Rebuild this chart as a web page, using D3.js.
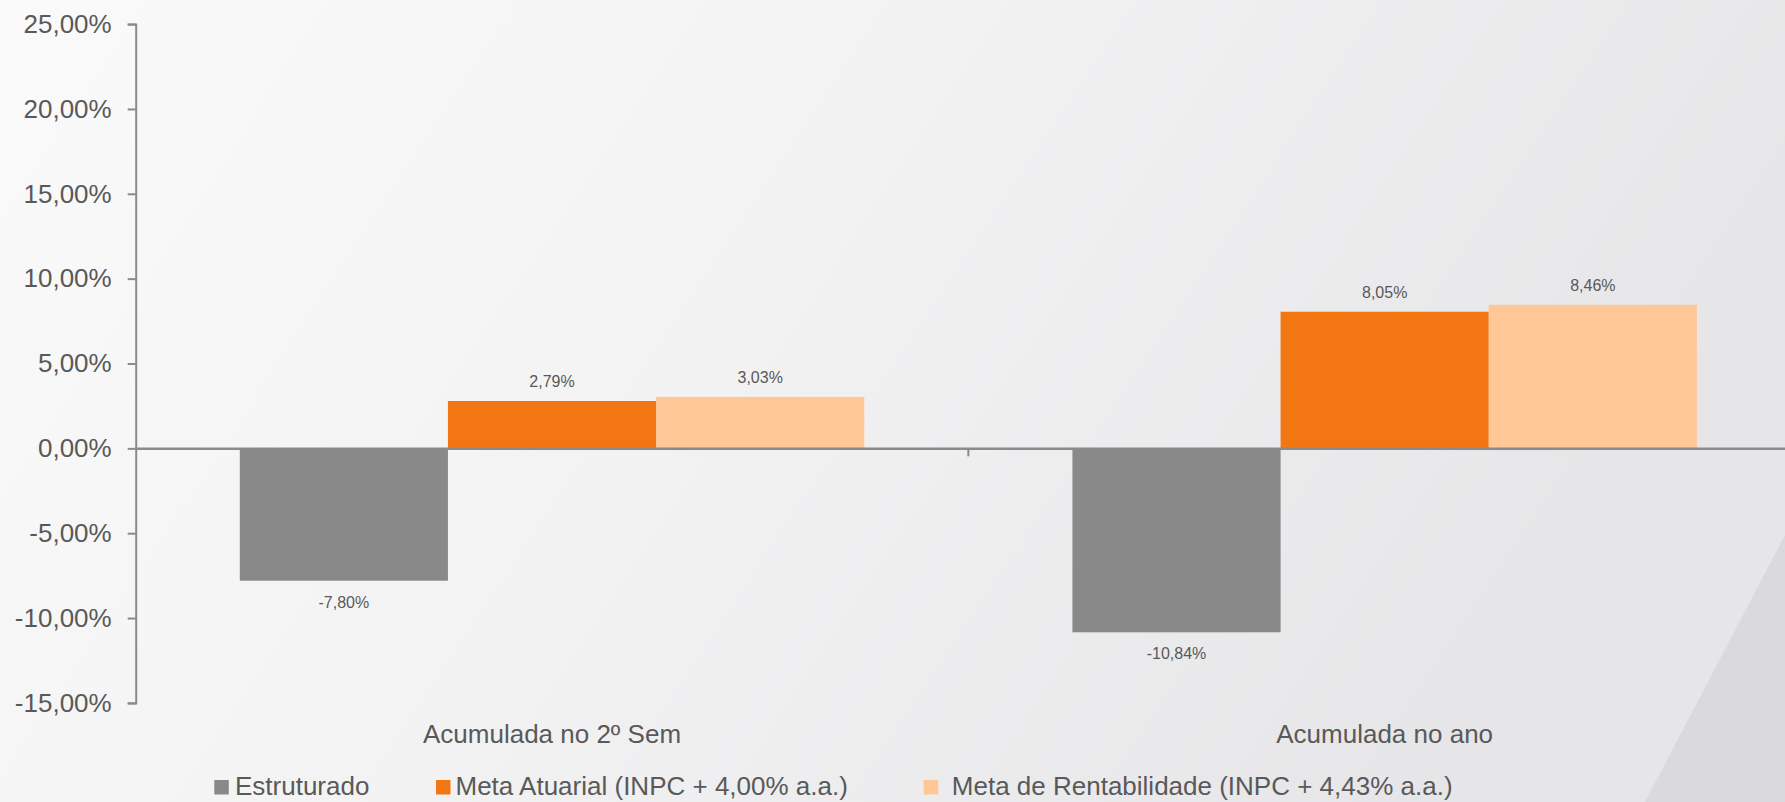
<!DOCTYPE html>
<html>
<head>
<meta charset="utf-8">
<script src="https://cdn.jsdelivr.net/npm/d3@7"></script>
<style>
  html, body { margin: 0; padding: 0; overflow: hidden; }
  svg { display: block; }
  text { font-family: "Liberation Sans", Arial, sans-serif; fill: #595959; }
</style>
</head>
<body>
<svg id="chart" width="1785" height="802"></svg>
<script>
const categories = ["Acumulada no 2º Sem", "Acumulada no ano"];
const seriesNames = ["Estruturado", "Meta Atuarial (INPC + 4,00% a.a.)", "Meta de Rentabilidade (INPC + 4,43% a.a.)"];
const estruturado = [-7.80, -10.84];
const metaAtuarial = [2.79, 8.05];
const metaRentabilidade = [3.03, 8.46];
const yTicks = [-15, -10, -5, 0, 5, 10, 15, 20, 25];
const seriesColors = ["#898989", "#f27612", "#ffc796"];

const seriesValues = [estruturado, metaAtuarial, metaRentabilidade];
const fmt = v => (v < 0 ? "-" : "") + Math.abs(v).toFixed(2).replace(".", ",") + "%";

const svg = d3.select("#chart");
const W = 1785, H = 802;

// background
const defs = svg.append("defs");
const grad = defs.append("linearGradient").attr("id", "bg").attr("x1", "0").attr("y1", "0").attr("x2", "1").attr("y2", "0.3");
grad.append("stop").attr("offset", "0").attr("stop-color", "#fafafb");
grad.append("stop").attr("offset", "0.45").attr("stop-color", "#f3f3f4");
grad.append("stop").attr("offset", "1").attr("stop-color", "#e6e6e8");
svg.append("rect").attr("width", W).attr("height", H).attr("fill", "url(#bg)");
svg.append("path").attr("d", `M${W},535 L1645,${H} L${W},${H} Z`).attr("fill", "#dadadc");

const axisLeft = 135.7, plotRight = 1801;
const x0 = d3.scaleBand().domain(categories).range([axisLeft, plotRight]).paddingInner(0).paddingOuter(0);
const x1 = d3.scaleBand().domain(d3.range(seriesNames.length)).range([0, x0.bandwidth()]).paddingInner(0).paddingOuter(0.5);
const y = d3.scaleLinear().domain([-15, 25]).range([702.9, 24.1]);

// y axis
const yAxis = d3.axisLeft(y).tickValues(yTicks).tickFormat(fmt).tickSizeInner(8).tickSizeOuter(8).tickPadding(16);
const gy = svg.append("g").attr("transform", `translate(${axisLeft},0)`).call(yAxis);
gy.selectAll("path, line").attr("stroke", "#8a8a8a").attr("stroke-width", 2);
gy.selectAll("text").attr("font-size", 26).attr("fill", "#595959").attr("font-family", "'Liberation Sans', Arial, sans-serif");

// bars
const groups = svg.append("g").selectAll("g").data(seriesNames).join("g").attr("fill", (d, i) => seriesColors[i]);
groups.selectAll("rect").data((d, i) => seriesValues[i].map((v, j) => ({ v, cat: categories[j], s: i })))
  .join("rect")
  .attr("x", d => x0(d.cat) + x1(d.s))
  .attr("width", x1.bandwidth())
  .attr("y", d => y(Math.max(0, d.v)))
  .attr("height", d => Math.abs(y(d.v) - y(0)));

// data labels
svg.append("g").selectAll("text").data(seriesValues.flatMap((arr, i) => arr.map((v, j) => ({ v, cat: categories[j], s: i }))))
  .join("text")
  .attr("x", d => x0(d.cat) + x1(d.s) + x1.bandwidth() / 2)
  .attr("y", d => d.v >= 0 ? y(d.v) - 14 : y(d.v) + 27)
  .attr("text-anchor", "middle")
  .attr("font-size", 16)
  .text(d => fmt(d.v));

// x axis (zero line)
const xAxis = d3.axisBottom(x0).tickSize(0).tickFormat("");
const gx = svg.append("g").attr("transform", `translate(0,${y(0)})`).call(xAxis);
gx.select(".domain").attr("stroke", "#8a8a8a").attr("stroke-width", 2.5);
// category boundary tick marks
svg.append("g").selectAll("line").data(categories.slice(1))
  .join("line")
  .attr("x1", d => x0(d)).attr("x2", d => x0(d))
  .attr("y1", y(0)).attr("y2", y(0) + 8)
  .attr("stroke", "#8a8a8a").attr("stroke-width", 2);

// category labels
svg.append("g").selectAll("text").data(categories).join("text")
  .attr("x", d => x0(d) + x0.bandwidth() / 2)
  .attr("y", 743)
  .attr("text-anchor", "middle")
  .attr("font-size", 26)
  .text(d => d);

// legend
const legendX = [214.3, 436, 923.7];
const legendTextX = [235, 455.5, 951.8];
const lg = svg.append("g").selectAll("g").data(seriesNames).join("g");
lg.append("rect").attr("x", (d, i) => legendX[i]).attr("y", 780).attr("width", 14.5).attr("height", 14.5).attr("fill", (d, i) => seriesColors[i]);
lg.append("text").attr("x", (d, i) => legendTextX[i]).attr("y", 795).attr("font-size", 26).text(d => d);
</script>
</body>
</html>
